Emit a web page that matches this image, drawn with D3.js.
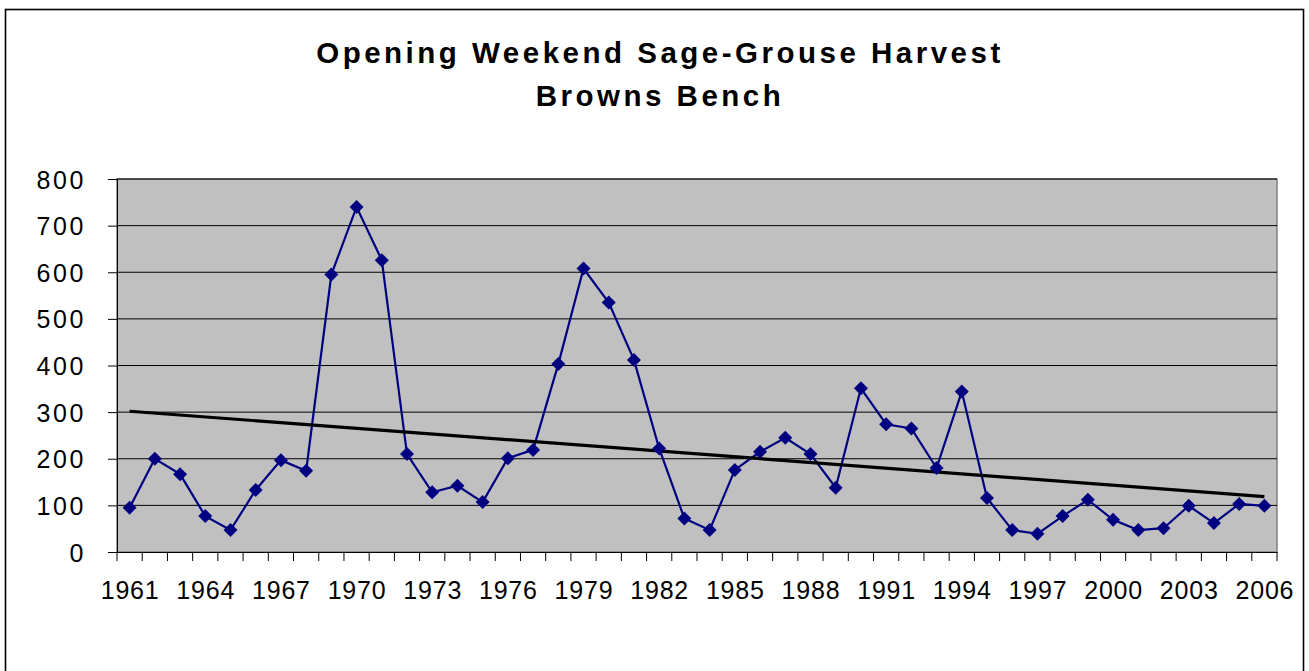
<!DOCTYPE html>
<html>
<head>
<meta charset="utf-8">
<script src="https://cdn.jsdelivr.net/npm/d3@7"></script>
<style>
body { margin: 0; background: #fff; }
text { font-family: "Liberation Sans", Arial, sans-serif; }
</style>
</head>
<body>
<svg id="chart" width="1309" height="671"></svg>
<script>
// data
const years = d3.range(1961, 2007);
const harvest = [95, 200, 167, 77, 47, 133, 197, 174, 595, 740,
  626, 210, 128, 142, 107, 201, 219, 403, 608, 535,
  412, 222, 72, 47, 176, 215, 245, 210, 138, 351,
  274, 265, 180, 344, 116, 47, 39, 77, 112, 69,
  47, 51, 99, 62, 103, 99];
const yTicks = [0, 100, 200, 300, 400, 500, 600, 700, 800];
const xLabels = d3.range(1961, 2007, 3);
const titleLines = ["Opening Weekend Sage-Grouse Harvest", "Browns Bench"];

const svg = d3.select("#chart");
const plotL = 117, plotR = 1277, plotT = 179, plotB = 552;

// outer frame
svg.append("rect").attr("x", 5.5).attr("y", 9.5).attr("width", 1298).attr("height", 700)
  .attr("fill", "#fff").attr("stroke", "#000").attr("stroke-width", 1.6);

// title
svg.append("g").selectAll("text").data(titleLines).enter().append("text")
  .attr("x", 660).attr("y", (d, i) => 63 + i * 43)
  .attr("text-anchor", "middle").attr("font-size", 29.5).attr("font-weight", "bold")
  .attr("letter-spacing", 3.5)
  .text(d => d);

const x = d3.scaleBand().domain(years).range([plotL, plotR]);
const y = d3.scaleLinear().domain([0, 800]).range([plotB, plotT]);

// plot area
svg.append("rect").attr("x", plotL).attr("y", plotT).attr("width", plotR - plotL).attr("height", plotB - plotT)
  .attr("fill", "#C0C0C0").attr("stroke", "#808080").attr("stroke-width", 1.5);

// gridlines
svg.append("g").selectAll("line").data(yTicks.slice(1)).enter().append("line")
  .attr("x1", plotL).attr("x2", plotR).attr("y1", d => y(d)).attr("y2", d => y(d))
  .attr("stroke", "#000").attr("stroke-width", 1);

// axes
const yAxis = svg.append("g").attr("transform", `translate(${plotL},0)`)
  .call(d3.axisLeft(y).tickValues(yTicks).tickSize(9).tickPadding(22));
yAxis.selectAll("text").attr("font-size", 25).attr("letter-spacing", 2.6).attr("fill", "#000")
  .attr("dy", "0.36em");

const xAxis = svg.append("g").attr("transform", `translate(0,${plotB})`)
  .call(d3.axisBottom(x).tickValues([]).tickSizeOuter(0));
xAxis.append("g").selectAll("line").data(years.concat([2007])).enter().append("line")
  .attr("x1", (d, i) => plotL + i * x.step()).attr("x2", (d, i) => plotL + i * x.step())
  .attr("y1", 0).attr("y2", 9).attr("stroke", "#000");
xAxis.append("g").selectAll("text").data(xLabels).enter().append("text")
  .attr("x", d => x(d) + x.bandwidth() / 2 + 0.5).attr("y", 47)
  .attr("text-anchor", "middle").attr("font-size", 25).attr("letter-spacing", 0.8).attr("fill", "#000")
  .text(d => d);
svg.selectAll(".domain").attr("stroke", "#000").attr("stroke-width", 1);

const cx = d => x(d) + x.bandwidth() / 2;
const pts = years.map((yr, i) => ({ yr, v: harvest[i] }));

// series line
svg.append("path").datum(pts)
  .attr("d", d3.line().x(d => cx(d.yr)).y(d => y(d.v)))
  .attr("fill", "none").attr("stroke", "#000080").attr("stroke-width", 2.2);

// linear trend (least squares)
const n = years.length;
const mx = d3.mean(years), my = d3.mean(harvest);
const slope = d3.sum(years, (t, i) => (t - mx) * (harvest[i] - my)) / d3.sum(years, t => (t - mx) * (t - mx));
const trend = t => my + slope * (t - mx);
svg.append("line")
  .attr("x1", cx(years[0])).attr("y1", y(trend(years[0])))
  .attr("x2", cx(years[n - 1])).attr("y2", y(trend(years[n - 1])))
  .attr("stroke", "#000").attr("stroke-width", 3.2);

// diamond markers
svg.append("g").selectAll("path").data(pts).enter().append("path")
  .attr("transform", d => `translate(${cx(d.yr)},${y(d.v)})`)
  .attr("d", "M0,-7L7,0L0,7L-7,0Z")
  .attr("fill", "#000080");
</script>
</body>
</html>
